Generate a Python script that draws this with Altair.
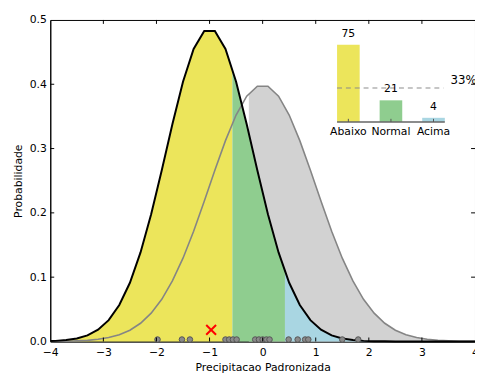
import altair as alt
import pandas as pd

# ---------------- data ----------------
grid_x = [-4.0, -3.9, -3.7, -3.5, -3.3, -3.1, -2.9, -2.7, -2.5, -2.3, -2.1,
          -1.9, -1.7, -1.5, -1.3, -1.1, -0.9, -0.7, -0.5, -0.3, -0.1,
          0.1, 0.3, 0.5, 0.7, 0.9, 1.1, 1.3, 1.5, 1.7, 1.9,
          2.1, 2.3, 2.5, 2.7, 2.9, 3.1, 3.3, 3.5, 3.7, 3.9, 4.0]
forecast_y = [0.0006, 0.0009, 0.0022, 0.0047, 0.0095, 0.0183, 0.0332, 0.0567, 0.0913, 0.1385, 0.1979,
              0.2664, 0.3379, 0.4040, 0.4550, 0.4829, 0.4829, 0.4550, 0.4040, 0.3379, 0.2664,
              0.1979, 0.1385, 0.0913, 0.0567, 0.0332, 0.0183, 0.0095, 0.0047, 0.0022, 0.0009,
              0.0004, 0.0002, 0.0001, 0.0, 0.0, 0.0, 0.0, 0.0, 0.0, 0.0, 0.0]
clim_y = [0.0001, 0.0002, 0.0004, 0.0009, 0.0017, 0.0033, 0.0060, 0.0104, 0.0175, 0.0283, 0.0440,
          0.0656, 0.0941, 0.1295, 0.1714, 0.2179, 0.2661, 0.3123, 0.3521, 0.3814, 0.3970,
          0.3970, 0.3814, 0.3521, 0.3123, 0.2661, 0.2179, 0.1714, 0.1295, 0.0941, 0.0656,
          0.0440, 0.0283, 0.0175, 0.0104, 0.0060, 0.0033, 0.0017, 0.0009, 0.0004, 0.0002, 0.0001]

lower_t = -0.57          # lower tercile boundary
fc_at_lower = 0.422
upper_t = 0.42           # upper tercile boundary
fc_at_upper = 0.110
gray_start = -0.26
clim_at_gray_start = 0.3845

obs_x = [-1.98, -1.52, -1.37, -0.70, -0.63, -0.56, -0.49, -0.14, -0.07, 0.0,
         0.07, 0.13, 0.49, 0.66, 0.80, 0.86, 1.50, 1.80]
obs_level = 0.003
forecast_x = [-0.97]
forecast_level = [0.018]

x_ticks = [-4, -3, -2, -1, 0, 1, 2, 3, 4]
y_ticks = [0.0, 0.1, 0.2, 0.3, 0.4, 0.5]
inner_x_ticks = [-3, -2, -1, 0, 1, 2, 3]
inner_y_ticks = [0.1, 0.2, 0.3, 0.4]

inset_cats = ["Abaixo", "Normal", "Acima"]
inset_vals = [75, 21, 4]
inset_ref = [33]

# ---------------- styles ----------------
FONT = "DejaVu Sans"
YELLOW = "#ECE55B"
GREEN = "#8FCD8F"
BLUE = "#A9D6E2"
GRAYF = "#D2D2D2"

# ---------------- tables ----------------
pairs_f = list(zip(grid_x, forecast_y))
pairs_c = list(zip(grid_x, clim_y))
yellow_pts = [p for p in pairs_f if p[0] < lower_t] + [(lower_t, fc_at_lower)]
green_pts = [(lower_t, fc_at_lower)] + [p for p in pairs_f if lower_t < p[0] < upper_t] + [(upper_t, fc_at_upper)]
blue_pts = [(upper_t, fc_at_upper)] + [p for p in pairs_f if p[0] > upper_t]
gray_pts = [(gray_start, clim_at_gray_start)] + [p for p in pairs_c if p[0] > gray_start]

def df(pts):
    return pd.DataFrame(pts, columns=["x", "y"])

fc_df = df(pairs_f)
cl_df = df(pairs_c)
obs_df = pd.DataFrame({"x": obs_x, "y": [obs_level] * len(obs_x)})
fx_df = pd.DataFrame({"x": forecast_x, "y": forecast_level})

xs = alt.Scale(domain=[-4, 4], nice=False, zero=False)
ys = alt.Scale(domain=[0, 0.5], nice=False)
common_axis = dict(ticks=False, tickSize=0, grid=False, labelOverlap=False,
                   labelFont=FONT, labelFontSize=11, labelColor="black",
                   titleFont=FONT, titleFontSize=11, titleFontWeight="normal",
                   titleColor="black", domainColor="black", domainWidth=1)
xaxis = alt.Axis(values=x_ticks, format="d", labelFlush=False, labelPadding=5,
                 titlePadding=5, **common_axis)
yaxis = alt.Axis(values=y_ticks, format=".1f", labelFlush=False, labelPadding=4,
                 titlePadding=6, **common_axis)
X = alt.X("x:Q", scale=xs, axis=xaxis, title="Precipitacao Padronizada")
Y = alt.Y("y:Q", scale=ys, axis=yaxis, title="Probabilidade")

gray_area = alt.Chart(df(gray_pts)).mark_area(color=GRAYF, opacity=1).encode(x=X, y=Y)
yellow_area = alt.Chart(df(yellow_pts)).mark_area(color=YELLOW, opacity=1).encode(x=X, y=Y)
green_area = alt.Chart(df(green_pts)).mark_area(color=GREEN, opacity=1).encode(x=X, y=Y)
blue_area = alt.Chart(df(blue_pts)).mark_area(color=BLUE, opacity=1).encode(x=X, y=Y)
clim_line = alt.Chart(cl_df).mark_line(color="#858585", strokeWidth=1.6).encode(x=X, y=Y)
fc_line = alt.Chart(fc_df).mark_line(color="black", strokeWidth=2).encode(x=X, y=Y)
dots = alt.Chart(obs_df).mark_point(shape="circle", filled=True, fill="#8a8a8a",
                                    stroke="#555555", strokeWidth=1, size=32,
                                    opacity=1).encode(x=X, y=Y)
redx = alt.Chart(fx_df).mark_point(shape="M-1,-1L1,1M-1,1L1,-1", filled=False,
                                   stroke="red", strokeWidth=2, size=100,
                                   opacity=1).encode(x=X, y=Y)

xt_df = pd.DataFrame({"x": inner_x_ticks})
yt_df = pd.DataFrame({"y": inner_y_ticks})
tick_b = alt.Chart(xt_df).mark_rule(color="black").encode(x=X, y=alt.value(327), y2=alt.value(323))
tick_t = alt.Chart(xt_df).mark_rule(color="black").encode(x=X, y=alt.value(0), y2=alt.value(4))
tick_l = alt.Chart(yt_df).mark_rule(color="black").encode(y=Y, x=alt.value(0), x2=alt.value(4))
tick_r = alt.Chart(yt_df).mark_rule(color="black").encode(y=Y, x=alt.value(432), x2=alt.value(428))

main = alt.layer(gray_area, yellow_area, green_area, blue_area, clim_line, fc_line,
                 dots, redx, tick_b, tick_t, tick_l, tick_r)

# ---------------- inset bar chart ----------------
inset_df = pd.DataFrame({"cat": inset_cats, "val": inset_vals})
ixs = alt.Scale(domain=inset_cats, range=[291.7, 401.3], paddingInner=0.469, paddingOuter=0)
iys = alt.Scale(domain=[0, 75], range=[103.7, 25.3], nice=False, zero=False)
IX = alt.X("cat:N", scale=ixs, axis=None, sort=inset_cats)
IY = alt.Y("val:Q", scale=iys, axis=None)

bars = alt.Chart(inset_df).mark_bar(opacity=1).encode(
    x=IX, y=IY,
    color=alt.Color("cat:N", scale=alt.Scale(domain=inset_cats, range=[YELLOW, GREEN, BLUE]), legend=None))
val_txt = alt.Chart(inset_df).mark_text(dy=-11, baseline="middle", font=FONT, fontSize=11,
                                        color="black").encode(x=IX, y=IY, text="val:Q")
cat_df = pd.DataFrame({"cat": inset_cats, "val": [0] * 3, "v2": [3] * 3})
cat_txt = alt.Chart(cat_df).mark_text(dy=10, baseline="middle", font=FONT, fontSize=11,
                                      color="black").encode(x=IX, y=IY, text="cat:N")
inset_ticks = alt.Chart(cat_df).mark_rule(color="#555555").encode(x=IX, y=IY, y2="v2:Q")
base_df = pd.DataFrame({"val": [0]})
baseline = alt.Chart(base_df).mark_rule(color="#666666", strokeWidth=1.5).encode(
    y=IY, x=alt.value(291.7), x2=alt.value(401.3))
ref_df = pd.DataFrame({"val": inset_ref, "lbl": [f"{v}%" for v in inset_ref]})
ref_rule = alt.Chart(ref_df).mark_rule(color="#8a8a8a", strokeDash=[5, 4], strokeWidth=1).encode(
    y=IY, x=alt.value(291.7), x2=alt.value(400))
ref_txt = alt.Chart(ref_df).mark_text(align="left", baseline="middle", dy=-8, font=FONT,
                                      fontSize=12, color="black").encode(
    y=IY, x=alt.value(407), text="lbl:N")

inset = alt.layer(bars, ref_rule, baseline, inset_ticks, val_txt, cat_txt, ref_txt)

chart = alt.layer(main, inset).resolve_scale(x="independent", y="independent").properties(
    width=432, height=327,
    autosize=alt.AutoSizeParams(type="none"),
    padding={"left": 43, "top": 9, "right": 0, "bottom": 34},
    background="white",
).configure_view(stroke="black", strokeWidth=1)

chart.save("out.html", embed_options={"renderer": "svg", "actions": False})
